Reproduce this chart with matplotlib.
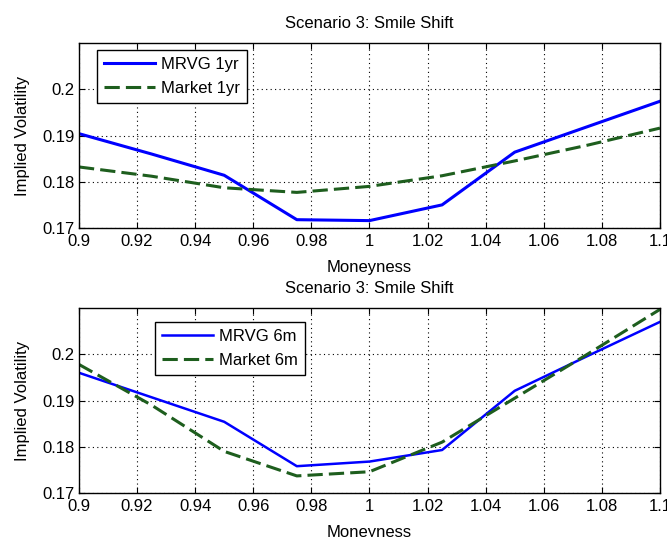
import matplotlib
matplotlib.use("Agg")
import matplotlib.pyplot as plt
import numpy as np

plt.rcParams['font.family'] = ['Liberation Sans', 'DejaVu Sans']

# moneyness grid
moneyness = [0.9, 0.925, 0.95, 0.975, 1.0, 1.025, 1.05, 1.075, 1.1]

# 1yr smile
mrvg_1yr = [0.1904, 0.1860, 0.1814, 0.1718, 0.1716, 0.1750, 0.1864, 0.1919, 0.1974]
market_1yr = [0.1832, 0.1812, 0.1787, 0.1777, 0.1790, 0.1813, 0.1845, 0.1879, 0.1916]

# 6m smile
mrvg_6m = [0.1960, 0.1907, 0.1854, 0.1758, 0.1768, 0.1793, 0.1921, 0.1996, 0.2070]
market_6m = [0.1978, 0.1890, 0.1790, 0.1737, 0.1746, 0.1810, 0.1905, 0.2000, 0.2097]

xticks = [0.9, 0.92, 0.94, 0.96, 0.98, 1.0, 1.02, 1.04, 1.06, 1.08, 1.1]
xticklabels = ['0.9', '0.92', '0.94', '0.96', '0.98', '1', '1.02', '1.04', '1.06', '1.08', '1.1']
yticks = [0.17, 0.18, 0.19, 0.2]
yticklabels = ['0.17', '0.18', '0.19', '0.2']

blue = '#0000ff'
green = '#1e5e1e'
fs = 12

fig = plt.figure(figsize=(6.67, 5.37), dpi=100)
ax1 = fig.add_axes([0.1184, 0.5754, 0.871, 0.3445])
ax2 = fig.add_axes([0.1184, 0.0819, 0.871, 0.3445])

panels = [
    (ax1, mrvg_1yr, market_1yr, 'MRVG 1yr', 'Market 1yr', (0.031, 0.962), 2.2),
    (ax2, mrvg_6m, market_6m, 'MRVG 6m', 'Market 6m', (0.131, 0.924), 1.8),
]

for ax, mrvg, market, lab1, lab2, anchor, lw in panels:
    ax.plot(moneyness, mrvg, color=blue, lw=lw, label=lab1)
    ax.plot(moneyness, market, color=green, lw=2.2, dashes=(5, 2), label=lab2)
    ax.set_xlim(0.9, 1.1)
    ax.set_ylim(0.17, 0.21)
    ax.set_xticks(xticks)
    ax.set_xticklabels(xticklabels)
    ax.set_yticks(yticks)
    ax.set_yticklabels(yticklabels)
    ax.tick_params(direction='in', top=True, right=True, labelsize=fs, length=4)
    ax.tick_params(axis='x', pad=4)
    ax.tick_params(axis='y', pad=3)
    ax.grid(True, color='black', linestyle=(0, (1, 3)), linewidth=0.8)
    for s in ax.spines.values():
        s.set_linewidth(1.0)
    ax.set_title('Scenario 3: Smile Shift', fontsize=fs, pad=11)
    ax.set_xlabel('Moneyness', fontsize=fs, labelpad=8)
    ax.set_ylabel('Implied Volatility', fontsize=fs, labelpad=9)
    leg = ax.legend(loc='upper left', bbox_to_anchor=anchor, borderaxespad=0,
                    fontsize=fs, fancybox=False, framealpha=1, edgecolor='black',
                    handlelength=3.1, handletextpad=0.35, borderpad=0.4,
                    labelspacing=0.55)
    leg.get_frame().set_linewidth(1.0)

fig.savefig('out.png', dpi=100)
